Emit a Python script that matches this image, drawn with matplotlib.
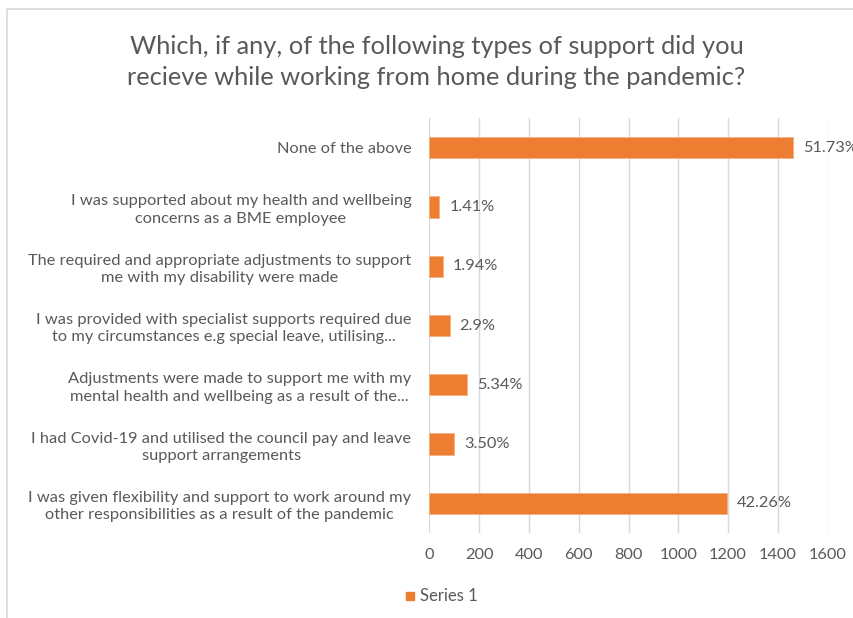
import matplotlib.pyplot as plt
from matplotlib.patches import Rectangle

# data (counts), top to bottom
labels = [
    "None of the above",
    "I was supported about my health and wellbeing\nconcerns as a BME employee",
    "The required and appropriate adjustments to support\nme with my disability were made",
    "I was provided with specialist supports required due\nto my circumstances e.g special leave, utilising...",
    "Adjustments were made to support me with my\nmental health and wellbeing as a result of the...",
    "I had Covid-19 and utilised the council pay and leave\nsupport arrangements",
    "I was given flexibility and support to work around my\nother responsibilities as a result of the pandemic",
]
counts = [1462, 40, 55, 82, 151, 99, 1194]
pct_labels = ["51.73%", "1.41%", "1.94%", "2.9%", "5.34%", "3.50%", "42.26%"]
xticks = [0, 200, 400, 600, 800, 1000, 1200, 1400, 1600]

orange = "#ED7D31"
grey_text = "#595959"
plt.rcParams['font.family'] = ['Lato', 'DejaVu Sans']

fig = plt.figure(figsize=(8.54, 6.18), dpi=100)
ax = fig.add_axes([0.5027, 0.1375, 0.4665, 0.6715])

# chart border like the excel chart area
fig.patches.append(Rectangle((7 / 854, -0.05), 1.2, 1.05 - 9 / 618,
                             transform=fig.transFigure, fill=False,
                             edgecolor="#d9d9d9", linewidth=1.2))

ypos = list(range(len(labels)))
ax.barh(ypos, counts, height=0.36, color=orange, edgecolor="#f4b183", linewidth=0.6, zorder=3)

for y, c, p in zip(ypos, counts, pct_labels):
    ax.text(c + 40, y, p, va='center', ha='left', fontsize=11.8, color=grey_text)

ax.set_ylim(len(labels) - 0.5, -0.5)
ax.set_xlim(0, 1600)
ax.set_xticks(xticks)
ax.set_xticklabels([str(t) for t in xticks])
ax.set_yticks(ypos)
ax.set_yticklabels(labels, multialignment='center', linespacing=1.3)
ax.tick_params(axis='both', length=0, labelsize=11.8, colors=grey_text)
ax.tick_params(axis='y', pad=13)
ax.tick_params(axis='x', pad=11)
ax.grid(axis='x', color="#d9d9d9", linewidth=1, zorder=0)
for s in ax.spines.values():
    s.set_visible(False)

fig.text(0.511, 0.9, "Which, if any, of the following types of support did you\n"
         "recieve while working from home during the pandemic?",
         ha='center', va='center', fontsize=18.3, color=grey_text, linespacing=1.45)

# legend
fig.patches.append(Rectangle((406 / 854, 1 - 600 / 618), 8 / 854, 8 / 618,
                             transform=fig.transFigure, color=orange))
fig.text(420 / 854, 1 - 596 / 618, "Series 1", ha='left', va='center',
         fontsize=12, color=grey_text)

fig.savefig("out.png", dpi=100)
